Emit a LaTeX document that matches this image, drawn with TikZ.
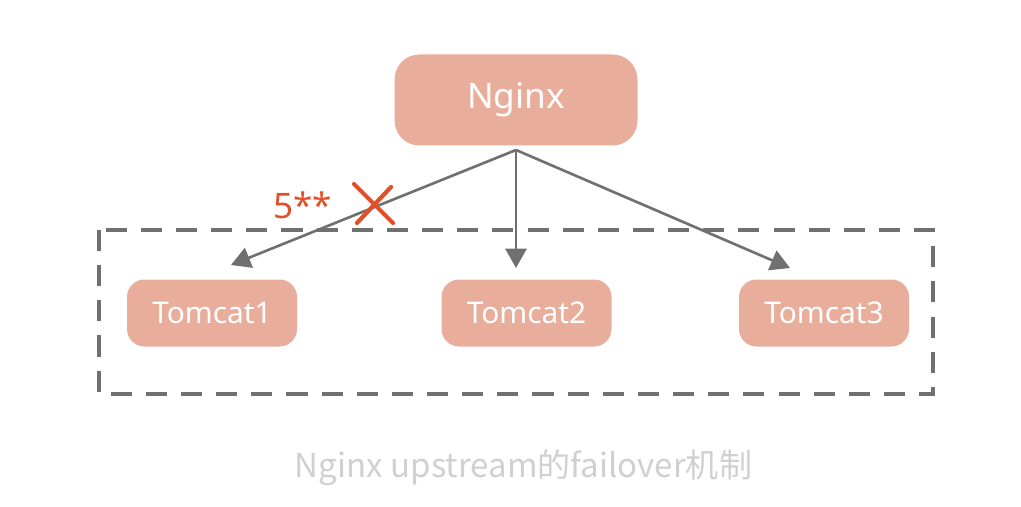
\documentclass[tikz,border=0pt]{standalone}
\usepackage{fontspec}
\setmainfont{Noto Sans}
\newfontfamily\cjk{Noto Sans CJK SC}
\usepackage{tikz}
\usetikzlibrary{arrows.meta, positioning, calc}

\definecolor{boxfill}{HTML}{E9AD9B}
\definecolor{linegray}{HTML}{707070}
\definecolor{crossred}{HTML}{E0502A}
\definecolor{captiongray}{HTML}{D0D0D0}

\begin{document}
\begin{tikzpicture}[
    server/.style={rectangle, rounded corners=0.35cm, fill=boxfill, text=white,
        minimum width=3.4cm, minimum height=1.34cm, font=\fontsize{17}{20}\selectfont},
    link/.style={draw=linegray, line width=1.5pt, -{Triangle[length=11pt, width=12pt]}}]
    \useasboundingbox (0,0) rectangle (20.42,-10.14);

    \node[server, rounded corners=0.5cm, minimum width=4.86cm, minimum height=1.82cm,
        font=\fontsize{20}{24}\selectfont] (nginx) at (10.32,-2.00) {Nginx};
    \node[server] (t1) at (4.24,-6.26) {Tomcat1};
    \node[server] (t2) at (10.53,-6.26) {Tomcat2};
    \node[server] (t3) at (16.48,-6.26) {Tomcat3};

    \draw[linegray, line width=2.2pt, dash pattern=on 12pt off 8pt] (1.98,-4.60) rectangle (18.66,-7.88);

    \coordinate (src) at (10.32,-3.00);
    \coordinate (e1) at (4.62,-5.30);
    \coordinate (e2) at (10.32,-5.36);
    \coordinate (e3) at (15.80,-5.36);
    \draw[link] (src) -- (e1);
    \draw[link] (src) -- (e2);
    \draw[link] (src) -- (e3);

    % failed upstream
    \coordinate (x) at (7.46,-4.10);
    \draw[crossred, line width=2.4pt, line cap=round] ($(x)+(-0.38,0.42)$) -- ($(x)+(0.40,-0.36)$);
    \draw[crossred, line width=2.4pt, line cap=round] ($(x)+(0.36,0.36)$) -- ($(x)+(-0.32,-0.36)$);
    \node[text=crossred, font=\fontsize{20}{24}\selectfont] (err) at (6.05,-4.10) {5**};

    \node[text=captiongray, font=\cjk\fontsize{18.8}{22}\selectfont] (cap) at (10.47,-9.36) {Nginx upstream的failover机制};
\end{tikzpicture}
\end{document}
